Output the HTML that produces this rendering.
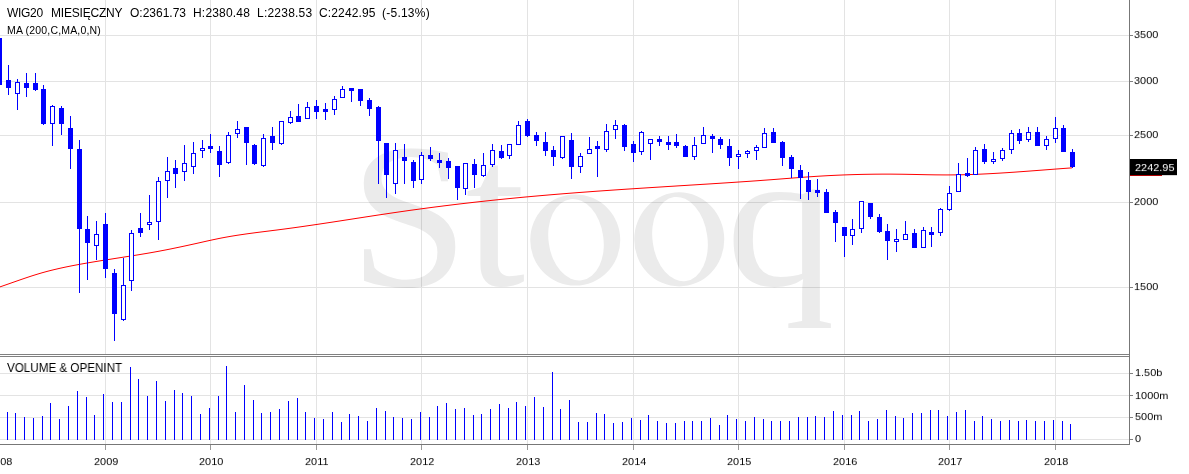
<!DOCTYPE html>
<html><head><meta charset="utf-8"><style>
html,body{margin:0;padding:0;background:#fff;}
body{width:1189px;height:474px;position:relative;overflow:hidden;font-family:"Liberation Sans",sans-serif;}
.t{position:absolute;white-space:pre;line-height:1;will-change:transform;}
.yl{width:60px;text-align:center;}
</style></head><body>
<svg width="1189" height="474" viewBox="0 0 1189 474" style="position:absolute;left:0;top:0"><path fill-rule="evenodd" fill="#ebebeb" d="M620.25,240.00 A45,45.6 0 1 1 530.25,240.00 A45,45.6 0 1 1 620.25,240.00 Z M603.13,235.89 A27.4,40.300000000000004 -8 1 1 548.87,243.51 A27.4,40.300000000000004 -8 1 1 603.13,235.89 Z"/><path fill-rule="evenodd" fill="#ebebeb" d="M724.25,239.40 A45,47 0 1 1 634.25,239.40 A45,47 0 1 1 724.25,239.40 Z M707.13,235.29 A27.4,41.7 -8 1 1 652.87,242.91 A27.4,41.7 -8 1 1 707.13,235.29 Z"/><text x="0" y="0" transform="translate(349.59,285.92) scale(1.0698,1.0388)" font-family="Liberation Serif" font-size="200" fill="#ebebeb">S</text><text x="0" y="0" transform="translate(465.45,284.88) scale(1.0731,1.0605)" font-family="Liberation Serif" font-size="200" fill="#ebebeb">t</text><text x="0" y="0" transform="translate(725.76,285.86) scale(1.091,0.9986)" font-family="Liberation Serif" font-size="200" fill="#ebebeb">q</text><g opacity="0.105" shape-rendering="crispEdges"><rect x="0" y="35" width="1129" height="1" fill="#000"/><rect x="0" y="81" width="1129" height="1" fill="#000"/><rect x="0" y="135" width="1129" height="1" fill="#000"/><rect x="0" y="202" width="1129" height="1" fill="#000"/><rect x="0" y="287" width="1129" height="1" fill="#000"/><rect x="0" y="373" width="1129" height="1" fill="#000"/><rect x="0" y="395" width="1129" height="1" fill="#000"/><rect x="0" y="417" width="1129" height="1" fill="#000"/><rect x="0" y="439" width="1129" height="1" fill="#000"/><rect x="105" y="0" width="1" height="354" fill="#000"/><rect x="105" y="357" width="1" height="87" fill="#000"/><rect x="210" y="0" width="1" height="354" fill="#000"/><rect x="210" y="357" width="1" height="87" fill="#000"/><rect x="316" y="0" width="1" height="354" fill="#000"/><rect x="316" y="357" width="1" height="87" fill="#000"/><rect x="421" y="0" width="1" height="354" fill="#000"/><rect x="421" y="357" width="1" height="87" fill="#000"/><rect x="527" y="0" width="1" height="354" fill="#000"/><rect x="527" y="357" width="1" height="87" fill="#000"/><rect x="633" y="0" width="1" height="354" fill="#000"/><rect x="633" y="357" width="1" height="87" fill="#000"/><rect x="738" y="0" width="1" height="354" fill="#000"/><rect x="738" y="357" width="1" height="87" fill="#000"/><rect x="844" y="0" width="1" height="354" fill="#000"/><rect x="844" y="357" width="1" height="87" fill="#000"/><rect x="949" y="0" width="1" height="354" fill="#000"/><rect x="949" y="357" width="1" height="87" fill="#000"/><rect x="1055" y="0" width="1" height="354" fill="#000"/><rect x="1055" y="357" width="1" height="87" fill="#000"/></g><path d="M0,286.88 L3,285.85 L6,284.81 L9,283.76 L12,282.70 L15,281.65 L18,280.60 L21,279.55 L24,278.52 L27,277.51 L30,276.51 L33,275.54 L36,274.60 L39,273.69 L42,272.81 L45,271.98 L48,271.17 L51,270.40 L54,269.67 L57,268.96 L60,268.27 L63,267.62 L66,266.98 L69,266.37 L72,265.77 L75,265.20 L78,264.64 L81,264.09 L84,263.55 L87,263.03 L90,262.51 L93,262.01 L96,261.51 L99,261.02 L102,260.53 L105,260.05 L108,259.58 L111,259.11 L114,258.64 L117,258.17 L120,257.70 L123,257.23 L126,256.76 L129,256.29 L132,255.81 L135,255.33 L138,254.85 L141,254.35 L144,253.85 L147,253.35 L150,252.83 L153,252.30 L156,251.76 L159,251.21 L162,250.64 L165,250.07 L168,249.48 L171,248.88 L174,248.26 L177,247.64 L180,247.01 L183,246.37 L186,245.73 L189,245.07 L192,244.41 L195,243.75 L198,243.08 L201,242.41 L204,241.73 L207,241.06 L210,240.40 L213,239.74 L216,239.11 L219,238.49 L222,237.90 L225,237.34 L228,236.80 L231,236.28 L234,235.79 L237,235.31 L240,234.85 L243,234.41 L246,233.98 L249,233.56 L252,233.16 L255,232.76 L258,232.37 L261,231.99 L264,231.61 L267,231.24 L270,230.86 L273,230.48 L276,230.11 L279,229.72 L282,229.34 L285,228.94 L288,228.54 L291,228.13 L294,227.72 L297,227.31 L300,226.88 L303,226.46 L306,226.03 L309,225.59 L312,225.15 L315,224.71 L318,224.27 L321,223.82 L324,223.37 L327,222.91 L330,222.46 L333,222.00 L336,221.54 L339,221.08 L342,220.62 L345,220.15 L348,219.69 L351,219.22 L354,218.76 L357,218.29 L360,217.83 L363,217.36 L366,216.90 L369,216.44 L372,215.98 L375,215.52 L378,215.06 L381,214.61 L384,214.16 L387,213.71 L390,213.26 L393,212.82 L396,212.38 L399,211.94 L402,211.51 L405,211.08 L408,210.65 L411,210.23 L414,209.82 L417,209.41 L420,209.00 L423,208.59 L426,208.19 L429,207.80 L432,207.40 L435,207.01 L438,206.63 L441,206.25 L444,205.87 L447,205.50 L450,205.13 L453,204.76 L456,204.40 L459,204.04 L462,203.69 L465,203.34 L468,202.99 L471,202.65 L474,202.31 L477,201.97 L480,201.64 L483,201.31 L486,200.98 L489,200.66 L492,200.34 L495,200.03 L498,199.71 L501,199.41 L504,199.10 L507,198.80 L510,198.50 L513,198.21 L516,197.92 L519,197.63 L522,197.34 L525,197.06 L528,196.79 L531,196.51 L534,196.24 L537,195.97 L540,195.71 L543,195.45 L546,195.19 L549,194.93 L552,194.68 L555,194.43 L558,194.18 L561,193.94 L564,193.70 L567,193.46 L570,193.22 L573,192.99 L576,192.76 L579,192.53 L582,192.30 L585,192.08 L588,191.86 L591,191.64 L594,191.42 L597,191.20 L600,190.99 L603,190.78 L606,190.57 L609,190.36 L612,190.15 L615,189.95 L618,189.74 L621,189.54 L624,189.34 L627,189.14 L630,188.94 L633,188.75 L636,188.55 L639,188.36 L642,188.16 L645,187.97 L648,187.78 L651,187.59 L654,187.40 L657,187.21 L660,187.02 L663,186.83 L666,186.64 L669,186.45 L672,186.27 L675,186.08 L678,185.89 L681,185.70 L684,185.52 L687,185.33 L690,185.14 L693,184.96 L696,184.77 L699,184.58 L702,184.39 L705,184.21 L708,184.02 L711,183.83 L714,183.64 L717,183.45 L720,183.25 L723,183.06 L726,182.87 L729,182.67 L732,182.47 L735,182.27 L738,182.07 L741,181.87 L744,181.67 L747,181.46 L750,181.25 L753,181.04 L756,180.83 L759,180.61 L762,180.39 L765,180.17 L768,179.95 L771,179.72 L774,179.49 L777,179.26 L780,179.03 L783,178.79 L786,178.56 L789,178.33 L792,178.09 L795,177.87 L798,177.64 L801,177.41 L804,177.19 L807,176.98 L810,176.77 L813,176.57 L816,176.37 L819,176.18 L822,176.00 L825,175.83 L828,175.67 L831,175.51 L834,175.36 L837,175.23 L840,175.10 L843,174.97 L846,174.86 L849,174.76 L852,174.66 L855,174.57 L858,174.49 L861,174.42 L864,174.35 L867,174.30 L870,174.25 L873,174.21 L876,174.18 L879,174.16 L882,174.14 L885,174.13 L888,174.14 L891,174.14 L894,174.16 L897,174.19 L900,174.22 L903,174.26 L906,174.31 L909,174.36 L912,174.42 L915,174.48 L918,174.54 L921,174.60 L924,174.66 L927,174.72 L930,174.77 L933,174.82 L936,174.86 L939,174.89 L942,174.91 L945,174.93 L948,174.93 L951,174.92 L954,174.89 L957,174.85 L960,174.80 L963,174.74 L966,174.66 L969,174.57 L972,174.47 L975,174.37 L978,174.25 L981,174.12 L984,173.98 L987,173.83 L990,173.68 L993,173.51 L996,173.34 L999,173.17 L1002,172.98 L1005,172.79 L1008,172.60 L1011,172.39 L1014,172.19 L1017,171.98 L1020,171.76 L1023,171.54 L1026,171.32 L1029,171.10 L1032,170.87 L1035,170.65 L1038,170.42 L1041,170.19 L1044,169.96 L1047,169.73 L1050,169.50 L1053,169.27 L1056,169.04 L1059,168.82 L1062,168.59 L1065,168.37 L1068,168.15 L1071,167.94 L1072,167.87" fill="none" stroke="#ff0000" stroke-width="1"/><g shape-rendering="crispEdges"><rect x="-1" y="38" width="1" height="47" fill="#0000ff"/><rect x="-3" y="38" width="5" height="47" fill="#0000ff"/><rect x="8" y="65" width="1" height="30" fill="#0000ff"/><rect x="6" y="80" width="5" height="8" fill="#0000ff"/><rect x="17" y="79" width="1" height="31" fill="#0000ff"/><rect x="15.5" y="82.5" width="4" height="11" fill="#fff" stroke="#0000ff" stroke-width="1"/><rect x="26" y="73" width="1" height="24" fill="#0000ff"/><rect x="24" y="83" width="5" height="5" fill="#0000ff"/><rect x="35" y="73" width="1" height="18" fill="#0000ff"/><rect x="33" y="83" width="5" height="7" fill="#0000ff"/><rect x="43" y="85" width="1" height="40" fill="#0000ff"/><rect x="41" y="89" width="5" height="35" fill="#0000ff"/><rect x="52" y="105" width="1" height="41" fill="#0000ff"/><rect x="50.5" y="106.5" width="4" height="17" fill="#fff" stroke="#0000ff" stroke-width="1"/><rect x="61" y="106" width="1" height="29" fill="#0000ff"/><rect x="59" y="108" width="5" height="16" fill="#0000ff"/><rect x="70" y="116" width="1" height="53" fill="#0000ff"/><rect x="68" y="128" width="5" height="21" fill="#0000ff"/><rect x="79" y="140" width="1" height="153" fill="#0000ff"/><rect x="77" y="149" width="5" height="80" fill="#0000ff"/><rect x="87" y="216" width="1" height="64" fill="#0000ff"/><rect x="85" y="229" width="5" height="14" fill="#0000ff"/><rect x="96" y="221" width="1" height="39" fill="#0000ff"/><rect x="94.5" y="234.5" width="4" height="11" fill="#fff" stroke="#0000ff" stroke-width="1"/><rect x="105" y="213" width="1" height="65" fill="#0000ff"/><rect x="103" y="224" width="5" height="45" fill="#0000ff"/><rect x="114" y="269" width="1" height="72" fill="#0000ff"/><rect x="112" y="273" width="5" height="41" fill="#0000ff"/><rect x="123" y="258" width="1" height="63" fill="#0000ff"/><rect x="121.5" y="285.5" width="4" height="34" fill="#fff" stroke="#0000ff" stroke-width="1"/><rect x="131" y="230" width="1" height="61" fill="#0000ff"/><rect x="129.5" y="233.5" width="4" height="47" fill="#fff" stroke="#0000ff" stroke-width="1"/><rect x="140" y="213" width="1" height="24" fill="#0000ff"/><rect x="138" y="228" width="5" height="5" fill="#0000ff"/><rect x="149" y="195" width="1" height="35" fill="#0000ff"/><rect x="147.5" y="222.5" width="4" height="2" fill="#fff" stroke="#0000ff" stroke-width="1"/><rect x="158" y="177" width="1" height="63" fill="#0000ff"/><rect x="156.5" y="181.5" width="4" height="40" fill="#fff" stroke="#0000ff" stroke-width="1"/><rect x="167" y="157" width="1" height="41" fill="#0000ff"/><rect x="165.5" y="171.5" width="4" height="9" fill="#fff" stroke="#0000ff" stroke-width="1"/><rect x="175" y="160" width="1" height="28" fill="#0000ff"/><rect x="173" y="168" width="5" height="6" fill="#0000ff"/><rect x="184" y="145" width="1" height="36" fill="#0000ff"/><rect x="182.5" y="163.5" width="4" height="8" fill="#fff" stroke="#0000ff" stroke-width="1"/><rect x="193" y="142" width="1" height="32" fill="#0000ff"/><rect x="191.5" y="153.5" width="4" height="13" fill="#fff" stroke="#0000ff" stroke-width="1"/><rect x="202" y="140" width="1" height="18" fill="#0000ff"/><rect x="200.5" y="148.5" width="4" height="2" fill="#fff" stroke="#0000ff" stroke-width="1"/><rect x="210" y="134" width="1" height="19" fill="#0000ff"/><rect x="208" y="146" width="5" height="3" fill="#0000ff"/><rect x="219" y="146" width="1" height="31" fill="#0000ff"/><rect x="217" y="151" width="5" height="14" fill="#0000ff"/><rect x="228" y="132" width="1" height="32" fill="#0000ff"/><rect x="226.5" y="135.5" width="4" height="27" fill="#fff" stroke="#0000ff" stroke-width="1"/><rect x="237" y="121" width="1" height="17" fill="#0000ff"/><rect x="235.5" y="129.5" width="4" height="4" fill="#fff" stroke="#0000ff" stroke-width="1"/><rect x="246" y="127" width="1" height="38" fill="#0000ff"/><rect x="244" y="127" width="5" height="16" fill="#0000ff"/><rect x="254" y="144" width="1" height="21" fill="#0000ff"/><rect x="252" y="145" width="5" height="19" fill="#0000ff"/><rect x="263" y="134" width="1" height="33" fill="#0000ff"/><rect x="261.5" y="138.5" width="4" height="27" fill="#fff" stroke="#0000ff" stroke-width="1"/><rect x="272" y="127" width="1" height="23" fill="#0000ff"/><rect x="270" y="136" width="5" height="7" fill="#0000ff"/><rect x="281" y="121" width="1" height="24" fill="#0000ff"/><rect x="279.5" y="121.5" width="4" height="22" fill="#fff" stroke="#0000ff" stroke-width="1"/><rect x="290" y="111" width="1" height="13" fill="#0000ff"/><rect x="288.5" y="117.5" width="4" height="5" fill="#fff" stroke="#0000ff" stroke-width="1"/><rect x="298" y="104" width="1" height="18" fill="#0000ff"/><rect x="296" y="116" width="5" height="6" fill="#0000ff"/><rect x="307" y="102" width="1" height="17" fill="#0000ff"/><rect x="305.5" y="107.5" width="4" height="11" fill="#fff" stroke="#0000ff" stroke-width="1"/><rect x="316" y="100" width="1" height="19" fill="#0000ff"/><rect x="314" y="106" width="5" height="6" fill="#0000ff"/><rect x="325" y="103" width="1" height="17" fill="#0000ff"/><rect x="323" y="109" width="5" height="3" fill="#0000ff"/><rect x="334" y="96" width="1" height="19" fill="#0000ff"/><rect x="332.5" y="99.5" width="4" height="10" fill="#fff" stroke="#0000ff" stroke-width="1"/><rect x="342" y="86" width="1" height="12" fill="#0000ff"/><rect x="340.5" y="89.5" width="4" height="8" fill="#fff" stroke="#0000ff" stroke-width="1"/><rect x="351" y="88" width="1" height="14" fill="#0000ff"/><rect x="349" y="88" width="5" height="3" fill="#0000ff"/><rect x="360" y="89" width="1" height="17" fill="#0000ff"/><rect x="358" y="89" width="5" height="12" fill="#0000ff"/><rect x="369" y="98" width="1" height="18" fill="#0000ff"/><rect x="367" y="100" width="5" height="9" fill="#0000ff"/><rect x="378" y="106" width="1" height="78" fill="#0000ff"/><rect x="376" y="107" width="5" height="34" fill="#0000ff"/><rect x="386" y="143" width="1" height="55" fill="#0000ff"/><rect x="384" y="143" width="5" height="32" fill="#0000ff"/><rect x="395" y="143" width="1" height="51" fill="#0000ff"/><rect x="393.5" y="150.5" width="4" height="33" fill="#fff" stroke="#0000ff" stroke-width="1"/><rect x="404" y="144" width="1" height="40" fill="#0000ff"/><rect x="402" y="157" width="5" height="4" fill="#0000ff"/><rect x="413" y="160" width="1" height="28" fill="#0000ff"/><rect x="411" y="162" width="5" height="19" fill="#0000ff"/><rect x="421" y="152" width="1" height="32" fill="#0000ff"/><rect x="419.5" y="155.5" width="4" height="24" fill="#fff" stroke="#0000ff" stroke-width="1"/><rect x="430" y="147" width="1" height="14" fill="#0000ff"/><rect x="428" y="155" width="5" height="4" fill="#0000ff"/><rect x="439" y="153" width="1" height="15" fill="#0000ff"/><rect x="437" y="160" width="5" height="3" fill="#0000ff"/><rect x="448" y="158" width="1" height="21" fill="#0000ff"/><rect x="446" y="161" width="5" height="7" fill="#0000ff"/><rect x="457" y="166" width="1" height="34" fill="#0000ff"/><rect x="455" y="166" width="5" height="22" fill="#0000ff"/><rect x="465" y="163" width="1" height="32" fill="#0000ff"/><rect x="463.5" y="163.5" width="4" height="25" fill="#fff" stroke="#0000ff" stroke-width="1"/><rect x="474" y="159" width="1" height="29" fill="#0000ff"/><rect x="472" y="164" width="5" height="11" fill="#0000ff"/><rect x="483" y="153" width="1" height="24" fill="#0000ff"/><rect x="481.5" y="165.5" width="4" height="10" fill="#fff" stroke="#0000ff" stroke-width="1"/><rect x="492" y="144" width="1" height="23" fill="#0000ff"/><rect x="490.5" y="150.5" width="4" height="14" fill="#fff" stroke="#0000ff" stroke-width="1"/><rect x="501" y="145" width="1" height="14" fill="#0000ff"/><rect x="499" y="151" width="5" height="7" fill="#0000ff"/><rect x="509" y="144" width="1" height="15" fill="#0000ff"/><rect x="507.5" y="144.5" width="4" height="11" fill="#fff" stroke="#0000ff" stroke-width="1"/><rect x="518" y="121" width="1" height="24" fill="#0000ff"/><rect x="516.5" y="125.5" width="4" height="19" fill="#fff" stroke="#0000ff" stroke-width="1"/><rect x="527" y="119" width="1" height="18" fill="#0000ff"/><rect x="525" y="121" width="5" height="15" fill="#0000ff"/><rect x="536" y="132" width="1" height="14" fill="#0000ff"/><rect x="534" y="135" width="5" height="6" fill="#0000ff"/><rect x="545" y="132" width="1" height="24" fill="#0000ff"/><rect x="543" y="142" width="5" height="9" fill="#0000ff"/><rect x="553" y="146" width="1" height="20" fill="#0000ff"/><rect x="551" y="150" width="5" height="7" fill="#0000ff"/><rect x="562" y="136" width="1" height="23" fill="#0000ff"/><rect x="560.5" y="136.5" width="4" height="21" fill="#fff" stroke="#0000ff" stroke-width="1"/><rect x="571" y="133" width="1" height="46" fill="#0000ff"/><rect x="569" y="140" width="5" height="27" fill="#0000ff"/><rect x="580" y="153" width="1" height="20" fill="#0000ff"/><rect x="578.5" y="156.5" width="4" height="10" fill="#fff" stroke="#0000ff" stroke-width="1"/><rect x="589" y="137" width="1" height="17" fill="#0000ff"/><rect x="587.5" y="149.5" width="4" height="4" fill="#fff" stroke="#0000ff" stroke-width="1"/><rect x="597" y="141" width="1" height="36" fill="#0000ff"/><rect x="595" y="146" width="5" height="3" fill="#0000ff"/><rect x="606" y="124" width="1" height="28" fill="#0000ff"/><rect x="604.5" y="131.5" width="4" height="18" fill="#fff" stroke="#0000ff" stroke-width="1"/><rect x="615" y="120" width="1" height="19" fill="#0000ff"/><rect x="613.5" y="125.5" width="4" height="4" fill="#fff" stroke="#0000ff" stroke-width="1"/><rect x="624" y="124" width="1" height="27" fill="#0000ff"/><rect x="622" y="125" width="5" height="22" fill="#0000ff"/><rect x="633" y="141" width="1" height="21" fill="#0000ff"/><rect x="631" y="144" width="5" height="9" fill="#0000ff"/><rect x="641" y="131" width="1" height="24" fill="#0000ff"/><rect x="639.5" y="132.5" width="4" height="19" fill="#fff" stroke="#0000ff" stroke-width="1"/><rect x="650" y="139" width="1" height="21" fill="#0000ff"/><rect x="648.5" y="139.5" width="4" height="4" fill="#fff" stroke="#0000ff" stroke-width="1"/><rect x="659" y="136" width="1" height="10" fill="#0000ff"/><rect x="657" y="139" width="5" height="3" fill="#0000ff"/><rect x="668" y="136" width="1" height="14" fill="#0000ff"/><rect x="666" y="142" width="5" height="3" fill="#0000ff"/><rect x="676" y="134" width="1" height="14" fill="#0000ff"/><rect x="674" y="142" width="5" height="4" fill="#0000ff"/><rect x="685" y="145" width="1" height="12" fill="#0000ff"/><rect x="683" y="146" width="5" height="11" fill="#0000ff"/><rect x="694" y="137" width="1" height="23" fill="#0000ff"/><rect x="692.5" y="145.5" width="4" height="11" fill="#fff" stroke="#0000ff" stroke-width="1"/><rect x="703" y="127" width="1" height="17" fill="#0000ff"/><rect x="701.5" y="135.5" width="4" height="8" fill="#fff" stroke="#0000ff" stroke-width="1"/><rect x="712" y="134" width="1" height="19" fill="#0000ff"/><rect x="710" y="136" width="5" height="3" fill="#0000ff"/><rect x="720" y="137" width="1" height="12" fill="#0000ff"/><rect x="718" y="139" width="5" height="6" fill="#0000ff"/><rect x="729" y="139" width="1" height="27" fill="#0000ff"/><rect x="727" y="146" width="5" height="12" fill="#0000ff"/><rect x="738" y="150" width="1" height="19" fill="#0000ff"/><rect x="736.5" y="154.5" width="4" height="2" fill="#fff" stroke="#0000ff" stroke-width="1"/><rect x="747" y="150" width="1" height="8" fill="#0000ff"/><rect x="745.5" y="151.5" width="4" height="2" fill="#fff" stroke="#0000ff" stroke-width="1"/><rect x="756" y="145" width="1" height="15" fill="#0000ff"/><rect x="754.5" y="147.5" width="4" height="3" fill="#fff" stroke="#0000ff" stroke-width="1"/><rect x="764" y="128" width="1" height="20" fill="#0000ff"/><rect x="762.5" y="133.5" width="4" height="14" fill="#fff" stroke="#0000ff" stroke-width="1"/><rect x="773" y="128" width="1" height="15" fill="#0000ff"/><rect x="771" y="132" width="5" height="11" fill="#0000ff"/><rect x="782" y="141" width="1" height="25" fill="#0000ff"/><rect x="780" y="142" width="5" height="16" fill="#0000ff"/><rect x="791" y="155" width="1" height="23" fill="#0000ff"/><rect x="789" y="157" width="5" height="12" fill="#0000ff"/><rect x="800" y="165" width="1" height="34" fill="#0000ff"/><rect x="798" y="170" width="5" height="8" fill="#0000ff"/><rect x="808" y="172" width="1" height="28" fill="#0000ff"/><rect x="806" y="180" width="5" height="12" fill="#0000ff"/><rect x="817" y="179" width="1" height="18" fill="#0000ff"/><rect x="815" y="190" width="5" height="3" fill="#0000ff"/><rect x="826" y="189" width="1" height="24" fill="#0000ff"/><rect x="824" y="192" width="5" height="21" fill="#0000ff"/><rect x="835" y="210" width="1" height="32" fill="#0000ff"/><rect x="833" y="212" width="5" height="11" fill="#0000ff"/><rect x="844" y="227" width="1" height="30" fill="#0000ff"/><rect x="842" y="227" width="5" height="9" fill="#0000ff"/><rect x="852" y="219" width="1" height="26" fill="#0000ff"/><rect x="850.5" y="229.5" width="4" height="6" fill="#fff" stroke="#0000ff" stroke-width="1"/><rect x="861" y="201" width="1" height="32" fill="#0000ff"/><rect x="859.5" y="201.5" width="4" height="27" fill="#fff" stroke="#0000ff" stroke-width="1"/><rect x="870" y="203" width="1" height="16" fill="#0000ff"/><rect x="868" y="203" width="5" height="14" fill="#0000ff"/><rect x="879" y="214" width="1" height="19" fill="#0000ff"/><rect x="877" y="217" width="5" height="15" fill="#0000ff"/><rect x="887" y="224" width="1" height="36" fill="#0000ff"/><rect x="885" y="231" width="5" height="10" fill="#0000ff"/><rect x="896" y="229" width="1" height="23" fill="#0000ff"/><rect x="894.5" y="239.5" width="4" height="2" fill="#fff" stroke="#0000ff" stroke-width="1"/><rect x="905" y="221" width="1" height="19" fill="#0000ff"/><rect x="903.5" y="234.5" width="4" height="5" fill="#fff" stroke="#0000ff" stroke-width="1"/><rect x="914" y="229" width="1" height="19" fill="#0000ff"/><rect x="912" y="233" width="5" height="15" fill="#0000ff"/><rect x="923" y="227" width="1" height="21" fill="#0000ff"/><rect x="921.5" y="230.5" width="4" height="17" fill="#fff" stroke="#0000ff" stroke-width="1"/><rect x="931" y="227" width="1" height="20" fill="#0000ff"/><rect x="929" y="232" width="5" height="3" fill="#0000ff"/><rect x="940" y="208" width="1" height="28" fill="#0000ff"/><rect x="938.5" y="209.5" width="4" height="23" fill="#fff" stroke="#0000ff" stroke-width="1"/><rect x="949" y="186" width="1" height="25" fill="#0000ff"/><rect x="947.5" y="193.5" width="4" height="16" fill="#fff" stroke="#0000ff" stroke-width="1"/><rect x="958" y="163" width="1" height="29" fill="#0000ff"/><rect x="956.5" y="174.5" width="4" height="17" fill="#fff" stroke="#0000ff" stroke-width="1"/><rect x="967" y="158" width="1" height="19" fill="#0000ff"/><rect x="965" y="173" width="5" height="3" fill="#0000ff"/><rect x="975" y="147" width="1" height="27" fill="#0000ff"/><rect x="973.5" y="150.5" width="4" height="24" fill="#fff" stroke="#0000ff" stroke-width="1"/><rect x="984" y="144" width="1" height="20" fill="#0000ff"/><rect x="982" y="149" width="5" height="13" fill="#0000ff"/><rect x="993" y="152" width="1" height="12" fill="#0000ff"/><rect x="991.5" y="159.5" width="4" height="2" fill="#fff" stroke="#0000ff" stroke-width="1"/><rect x="1002" y="148" width="1" height="13" fill="#0000ff"/><rect x="1000.5" y="150.5" width="4" height="8" fill="#fff" stroke="#0000ff" stroke-width="1"/><rect x="1011" y="130" width="1" height="24" fill="#0000ff"/><rect x="1009.5" y="133.5" width="4" height="16" fill="#fff" stroke="#0000ff" stroke-width="1"/><rect x="1019" y="129" width="1" height="15" fill="#0000ff"/><rect x="1017" y="133" width="5" height="8" fill="#0000ff"/><rect x="1028" y="127" width="1" height="15" fill="#0000ff"/><rect x="1026.5" y="132.5" width="4" height="7" fill="#fff" stroke="#0000ff" stroke-width="1"/><rect x="1037" y="127" width="1" height="19" fill="#0000ff"/><rect x="1035" y="132" width="5" height="14" fill="#0000ff"/><rect x="1046" y="136" width="1" height="14" fill="#0000ff"/><rect x="1044.5" y="139.5" width="4" height="6" fill="#fff" stroke="#0000ff" stroke-width="1"/><rect x="1055" y="117" width="1" height="26" fill="#0000ff"/><rect x="1053.5" y="128.5" width="4" height="10" fill="#fff" stroke="#0000ff" stroke-width="1"/><rect x="1063" y="125" width="1" height="27" fill="#0000ff"/><rect x="1061" y="128" width="5" height="24" fill="#0000ff"/><rect x="1072" y="149" width="1" height="19" fill="#0000ff"/><rect x="1070" y="152" width="5" height="15" fill="#0000ff"/></g><g shape-rendering="crispEdges"><rect x="7" y="412" width="1" height="28" fill="#0000ff"/><rect x="15" y="413" width="1" height="27" fill="#0000ff"/><rect x="24" y="417" width="1" height="23" fill="#0000ff"/><rect x="33" y="418" width="1" height="22" fill="#0000ff"/><rect x="42" y="416" width="1" height="24" fill="#0000ff"/><rect x="50" y="403" width="1" height="37" fill="#0000ff"/><rect x="59" y="419" width="1" height="21" fill="#0000ff"/><rect x="68" y="406" width="1" height="34" fill="#0000ff"/><rect x="77" y="391" width="1" height="49" fill="#0000ff"/><rect x="86" y="397" width="1" height="43" fill="#0000ff"/><rect x="94" y="415" width="1" height="25" fill="#0000ff"/><rect x="103" y="394" width="1" height="46" fill="#0000ff"/><rect x="112" y="402" width="1" height="38" fill="#0000ff"/><rect x="121" y="402" width="1" height="38" fill="#0000ff"/><rect x="130" y="367" width="1" height="73" fill="#0000ff"/><rect x="138" y="379" width="1" height="61" fill="#0000ff"/><rect x="147" y="396" width="1" height="44" fill="#0000ff"/><rect x="156" y="381" width="1" height="59" fill="#0000ff"/><rect x="165" y="401" width="1" height="39" fill="#0000ff"/><rect x="174" y="390" width="1" height="50" fill="#0000ff"/><rect x="182" y="393" width="1" height="47" fill="#0000ff"/><rect x="191" y="396" width="1" height="44" fill="#0000ff"/><rect x="200" y="414" width="1" height="26" fill="#0000ff"/><rect x="209" y="408" width="1" height="32" fill="#0000ff"/><rect x="218" y="396" width="1" height="44" fill="#0000ff"/><rect x="226" y="366" width="1" height="74" fill="#0000ff"/><rect x="235" y="412" width="1" height="28" fill="#0000ff"/><rect x="244" y="385" width="1" height="55" fill="#0000ff"/><rect x="253" y="400" width="1" height="40" fill="#0000ff"/><rect x="261" y="413" width="1" height="27" fill="#0000ff"/><rect x="270" y="412" width="1" height="28" fill="#0000ff"/><rect x="279" y="409" width="1" height="31" fill="#0000ff"/><rect x="288" y="401" width="1" height="39" fill="#0000ff"/><rect x="297" y="398" width="1" height="42" fill="#0000ff"/><rect x="305" y="412" width="1" height="28" fill="#0000ff"/><rect x="314" y="418" width="1" height="22" fill="#0000ff"/><rect x="323" y="419" width="1" height="21" fill="#0000ff"/><rect x="332" y="412" width="1" height="28" fill="#0000ff"/><rect x="341" y="422" width="1" height="18" fill="#0000ff"/><rect x="349" y="414" width="1" height="26" fill="#0000ff"/><rect x="358" y="416" width="1" height="24" fill="#0000ff"/><rect x="367" y="421" width="1" height="19" fill="#0000ff"/><rect x="376" y="408" width="1" height="32" fill="#0000ff"/><rect x="385" y="411" width="1" height="29" fill="#0000ff"/><rect x="393" y="417" width="1" height="23" fill="#0000ff"/><rect x="402" y="418" width="1" height="22" fill="#0000ff"/><rect x="411" y="419" width="1" height="21" fill="#0000ff"/><rect x="420" y="412" width="1" height="28" fill="#0000ff"/><rect x="429" y="417" width="1" height="23" fill="#0000ff"/><rect x="437" y="406" width="1" height="34" fill="#0000ff"/><rect x="446" y="403" width="1" height="37" fill="#0000ff"/><rect x="455" y="409" width="1" height="31" fill="#0000ff"/><rect x="464" y="408" width="1" height="32" fill="#0000ff"/><rect x="473" y="415" width="1" height="25" fill="#0000ff"/><rect x="481" y="414" width="1" height="26" fill="#0000ff"/><rect x="490" y="409" width="1" height="31" fill="#0000ff"/><rect x="499" y="404" width="1" height="36" fill="#0000ff"/><rect x="508" y="408" width="1" height="32" fill="#0000ff"/><rect x="516" y="402" width="1" height="38" fill="#0000ff"/><rect x="525" y="406" width="1" height="34" fill="#0000ff"/><rect x="534" y="397" width="1" height="43" fill="#0000ff"/><rect x="543" y="407" width="1" height="33" fill="#0000ff"/><rect x="552" y="372" width="1" height="68" fill="#0000ff"/><rect x="560" y="409" width="1" height="31" fill="#0000ff"/><rect x="569" y="400" width="1" height="40" fill="#0000ff"/><rect x="578" y="422" width="1" height="18" fill="#0000ff"/><rect x="587" y="422" width="1" height="18" fill="#0000ff"/><rect x="596" y="413" width="1" height="27" fill="#0000ff"/><rect x="604" y="414" width="1" height="26" fill="#0000ff"/><rect x="613" y="423" width="1" height="17" fill="#0000ff"/><rect x="622" y="422" width="1" height="18" fill="#0000ff"/><rect x="631" y="418" width="1" height="22" fill="#0000ff"/><rect x="640" y="420" width="1" height="20" fill="#0000ff"/><rect x="648" y="415" width="1" height="25" fill="#0000ff"/><rect x="657" y="421" width="1" height="19" fill="#0000ff"/><rect x="666" y="423" width="1" height="17" fill="#0000ff"/><rect x="675" y="423" width="1" height="17" fill="#0000ff"/><rect x="684" y="421" width="1" height="19" fill="#0000ff"/><rect x="692" y="421" width="1" height="19" fill="#0000ff"/><rect x="701" y="421" width="1" height="19" fill="#0000ff"/><rect x="710" y="418" width="1" height="22" fill="#0000ff"/><rect x="719" y="425" width="1" height="15" fill="#0000ff"/><rect x="727" y="415" width="1" height="25" fill="#0000ff"/><rect x="736" y="419" width="1" height="21" fill="#0000ff"/><rect x="745" y="421" width="1" height="19" fill="#0000ff"/><rect x="754" y="417" width="1" height="23" fill="#0000ff"/><rect x="763" y="419" width="1" height="21" fill="#0000ff"/><rect x="771" y="421" width="1" height="19" fill="#0000ff"/><rect x="780" y="421" width="1" height="19" fill="#0000ff"/><rect x="789" y="421" width="1" height="19" fill="#0000ff"/><rect x="798" y="417" width="1" height="23" fill="#0000ff"/><rect x="807" y="417" width="1" height="23" fill="#0000ff"/><rect x="815" y="416" width="1" height="24" fill="#0000ff"/><rect x="824" y="417" width="1" height="23" fill="#0000ff"/><rect x="833" y="411" width="1" height="29" fill="#0000ff"/><rect x="842" y="415" width="1" height="25" fill="#0000ff"/><rect x="851" y="415" width="1" height="25" fill="#0000ff"/><rect x="859" y="411" width="1" height="29" fill="#0000ff"/><rect x="868" y="421" width="1" height="19" fill="#0000ff"/><rect x="877" y="419" width="1" height="21" fill="#0000ff"/><rect x="886" y="410" width="1" height="30" fill="#0000ff"/><rect x="895" y="416" width="1" height="24" fill="#0000ff"/><rect x="903" y="418" width="1" height="22" fill="#0000ff"/><rect x="912" y="413" width="1" height="27" fill="#0000ff"/><rect x="921" y="413" width="1" height="27" fill="#0000ff"/><rect x="930" y="410" width="1" height="30" fill="#0000ff"/><rect x="938" y="410" width="1" height="30" fill="#0000ff"/><rect x="947" y="416" width="1" height="24" fill="#0000ff"/><rect x="956" y="412" width="1" height="28" fill="#0000ff"/><rect x="965" y="410" width="1" height="30" fill="#0000ff"/><rect x="974" y="421" width="1" height="19" fill="#0000ff"/><rect x="982" y="416" width="1" height="24" fill="#0000ff"/><rect x="991" y="419" width="1" height="21" fill="#0000ff"/><rect x="1000" y="421" width="1" height="19" fill="#0000ff"/><rect x="1009" y="420" width="1" height="20" fill="#0000ff"/><rect x="1018" y="421" width="1" height="19" fill="#0000ff"/><rect x="1026" y="420" width="1" height="20" fill="#0000ff"/><rect x="1035" y="421" width="1" height="19" fill="#0000ff"/><rect x="1044" y="421" width="1" height="19" fill="#0000ff"/><rect x="1053" y="420" width="1" height="20" fill="#0000ff"/><rect x="1062" y="421" width="1" height="19" fill="#0000ff"/><rect x="1070" y="424" width="1" height="16" fill="#0000ff"/></g><g shape-rendering="crispEdges"><rect x="0" y="354" width="1129" height="1" fill="#808080"/><rect x="0" y="356" width="1129" height="1" fill="#808080"/><rect x="0" y="444" width="1130" height="1" fill="#777"/><rect x="1129" y="0" width="1" height="445" fill="#777"/><rect x="1130" y="35" width="3" height="1" fill="#808080"/><rect x="1130" y="81" width="3" height="1" fill="#808080"/><rect x="1130" y="135" width="3" height="1" fill="#808080"/><rect x="1130" y="202" width="3" height="1" fill="#808080"/><rect x="1130" y="287" width="3" height="1" fill="#808080"/><rect x="1130" y="373" width="3" height="1" fill="#808080"/><rect x="1130" y="395" width="3" height="1" fill="#808080"/><rect x="1130" y="417" width="3" height="1" fill="#808080"/><rect x="1130" y="439" width="3" height="1" fill="#808080"/><rect x="105" y="445" width="1" height="5" fill="#999"/><rect x="210" y="445" width="1" height="5" fill="#999"/><rect x="316" y="445" width="1" height="5" fill="#999"/><rect x="421" y="445" width="1" height="5" fill="#999"/><rect x="527" y="445" width="1" height="5" fill="#999"/><rect x="633" y="445" width="1" height="5" fill="#999"/><rect x="738" y="445" width="1" height="5" fill="#999"/><rect x="844" y="445" width="1" height="5" fill="#999"/><rect x="949" y="445" width="1" height="5" fill="#999"/><rect x="1055" y="445" width="1" height="5" fill="#999"/></g><rect x="1130" y="159" width="47" height="16" fill="#000"/><rect x="1130" y="175" width="32" height="1" fill="#b00000"/><rect x="1162" y="175" width="15" height="1" fill="#d8d8d8"/></svg>
<div class="t" style="left:7.3px;top:7px;font-size:12px;color:#000;letter-spacing:-0.3px;">WIG20</div><div class="t" style="left:50.5px;top:7px;font-size:12px;color:#000;letter-spacing:-0.2px;">MIESIĘCZNY</div><div class="t" style="left:129.5px;top:7px;font-size:12px;color:#000;letter-spacing:0px;">O:2361.73</div><div class="t" style="left:192.8px;top:7px;font-size:12px;color:#000;letter-spacing:0.19px;">H:2380.48</div><div class="t" style="left:256.8px;top:7px;font-size:12px;color:#000;letter-spacing:0.22px;">L:2238.53</div><div class="t" style="left:319.4px;top:7px;font-size:12px;color:#000;letter-spacing:0.14px;">C:2242.95</div><div class="t" style="left:382.2px;top:7px;font-size:12px;color:#000;letter-spacing:0.24px;">(-5.13%)</div><div class="t" style="left:7.4px;top:25px;font-size:10.5px;color:#000;letter-spacing:0.17px;">MA (200,C,MA,0,N)</div><div class="t" style="left:7.3px;top:362px;font-size:12px;color:#000;letter-spacing:0px;transform:scale(0.97,1);transform-origin:0 0;">VOLUME &amp; OPENINT</div><div class="t" style="left:1134px;top:30px;font-size:10.5px;color:#000;letter-spacing:0px;transform:scale(1.04,0.9);transform-origin:0 0;">3500</div><div class="t" style="left:1134px;top:76px;font-size:10.5px;color:#000;letter-spacing:0px;transform:scale(1.04,0.9);transform-origin:0 0;">3000</div><div class="t" style="left:1134px;top:130px;font-size:10.5px;color:#000;letter-spacing:0px;transform:scale(1.04,0.9);transform-origin:0 0;">2500</div><div class="t" style="left:1134px;top:197px;font-size:10.5px;color:#000;letter-spacing:0px;transform:scale(1.04,0.9);transform-origin:0 0;">2000</div><div class="t" style="left:1134px;top:282px;font-size:10.5px;color:#000;letter-spacing:0px;transform:scale(1.04,0.9);transform-origin:0 0;">1500</div><div class="t" style="left:1135px;top:368px;font-size:10.5px;color:#000;letter-spacing:0px;transform:scale(1.04,0.9);transform-origin:0 0;">1.50b</div><div class="t" style="left:1135px;top:390.5px;font-size:10.5px;color:#000;letter-spacing:0px;transform:scale(1.04,0.9);transform-origin:0 0;">1000m</div><div class="t" style="left:1135px;top:412px;font-size:10.5px;color:#000;letter-spacing:0px;transform:scale(1.04,0.9);transform-origin:0 0;">500m</div><div class="t" style="left:1135.4px;top:434px;font-size:10.5px;color:#000;letter-spacing:0px;transform:scale(1.04,0.9);transform-origin:0 0;">0</div><div class="t" style="left:1135px;top:163px;font-size:10.5px;color:#fff;letter-spacing:0px;transform:scale(1.04,0.9);transform-origin:0 0;">2242.95</div><div class="t" style="left:-11.7px;top:457px;font-size:10.5px;color:#000;letter-spacing:0px;transform:scale(1.04,0.9);transform-origin:0 0;">2008</div><div class="t" style="left:93.8px;top:457px;font-size:10.5px;color:#000;letter-spacing:0px;transform:scale(1.04,0.9);transform-origin:0 0;">2009</div><div class="t" style="left:198.8px;top:457px;font-size:10.5px;color:#000;letter-spacing:0px;transform:scale(1.04,0.9);transform-origin:0 0;">2010</div><div class="t" style="left:304.8px;top:457px;font-size:10.5px;color:#000;letter-spacing:0px;transform:scale(1.04,0.9);transform-origin:0 0;">2011</div><div class="t" style="left:409.8px;top:457px;font-size:10.5px;color:#000;letter-spacing:0px;transform:scale(1.04,0.9);transform-origin:0 0;">2012</div><div class="t" style="left:515.8px;top:457px;font-size:10.5px;color:#000;letter-spacing:0px;transform:scale(1.04,0.9);transform-origin:0 0;">2013</div><div class="t" style="left:621.8px;top:457px;font-size:10.5px;color:#000;letter-spacing:0px;transform:scale(1.04,0.9);transform-origin:0 0;">2014</div><div class="t" style="left:726.8px;top:457px;font-size:10.5px;color:#000;letter-spacing:0px;transform:scale(1.04,0.9);transform-origin:0 0;">2015</div><div class="t" style="left:832.8px;top:457px;font-size:10.5px;color:#000;letter-spacing:0px;transform:scale(1.04,0.9);transform-origin:0 0;">2016</div><div class="t" style="left:937.8px;top:457px;font-size:10.5px;color:#000;letter-spacing:0px;transform:scale(1.04,0.9);transform-origin:0 0;">2017</div><div class="t" style="left:1043.8px;top:457px;font-size:10.5px;color:#000;letter-spacing:0px;transform:scale(1.04,0.9);transform-origin:0 0;">2018</div>
</body></html>
